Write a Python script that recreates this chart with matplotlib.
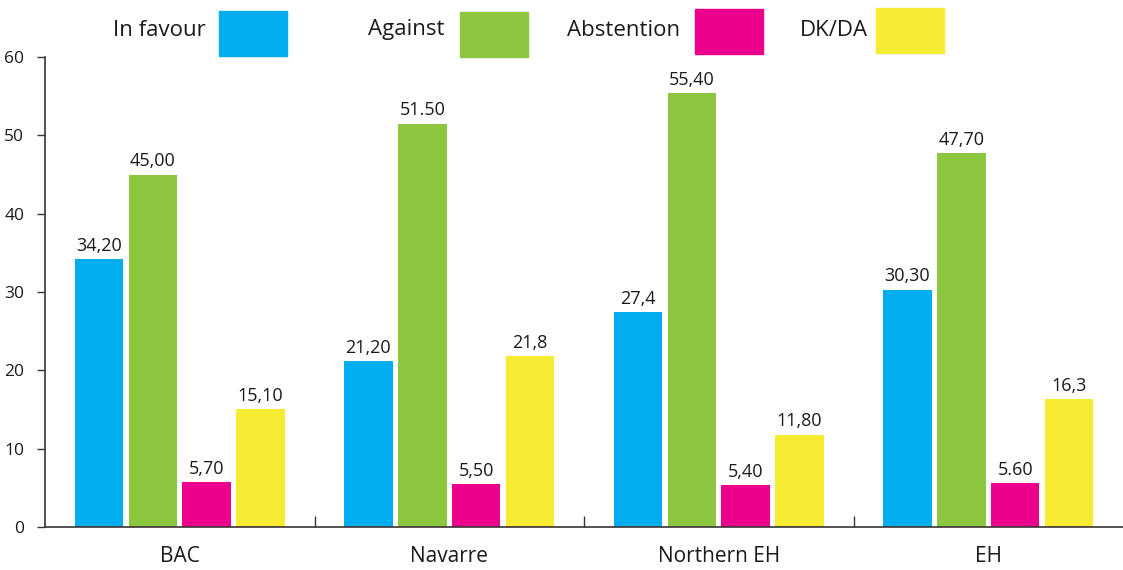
import matplotlib
matplotlib.use("Agg")
import matplotlib.pyplot as plt
from matplotlib.patches import Rectangle
import numpy as np

plt.rcParams['font.family'] = ['Open Sans', 'DejaVu Sans']

categories = ["BAC", "Navarre", "Northern EH", "EH"]
series_names = ["In favour", "Against", "Abstention", "DK/DA"]
in_favour = [34.2, 21.2, 27.4, 30.3]
against = [45.0, 51.5, 55.4, 47.7]
abstention = [5.7, 5.5, 5.4, 5.6]
dk_da = [15.1, 21.8, 11.8, 16.3]
labels_in_favour = ["34,20", "21,20", "27,4", "30,30"]
labels_against = ["45,00", "51.50", "55,40", "47,70"]
labels_abstention = ["5,70", "5,50", "5,40", "5.60"]
labels_dk_da = ["15,10", "21,8", "11,80", "16,3"]
y_ticks = [0, 10, 20, 30, 40, 50, 60]

colors = ["#00AEEF", "#8DC63F", "#EC008C", "#F7EC31"]
series = [in_favour, against, abstention, dk_da]
series_labels = [labels_in_favour, labels_against, labels_abstention, labels_dk_da]

W, H = 1123, 570
fig = plt.figure(figsize=(W / 100, H / 100), dpi=100)
ax = fig.add_axes([45 / W, 1 - 527 / H, 1 - 45 / W, (527 - 57) / H])

x = np.arange(len(categories))
offsets = [-0.3, -0.1, 0.1, 0.3]
axis_color = "#3b3233"
for vals, labs, col, off in zip(series, series_labels, colors, offsets):
    bars = ax.bar(x + off, vals, width=0.18, color=col, zorder=2)
    for b, lab in zip(bars, labs):
        ax.annotate(lab, (b.get_x() + b.get_width() / 2, b.get_height()),
                    xytext=(0, 3), textcoords="offset points",
                    ha="center", va="bottom", fontsize=13, color="#1a1a1a")

ax.set_xlim(-0.5, len(categories) - 0.5)
ax.set_ylim(0, 60)
ax.set_yticks(y_ticks)
ax.set_xticks(x)
ax.set_xticklabels(categories, fontsize=15, color="#1a1a1a")
ax.set_xticks(np.arange(0.5, len(categories) - 0.5, 1.0), minor=True)
ax.tick_params(axis="x", which="major", length=0, pad=14)
ax.tick_params(axis="x", which="minor", direction="in", length=8, width=1, color=axis_color)
ax.tick_params(axis="y", length=6, width=1, color=axis_color, labelsize=12.5, labelcolor="#1a1a1a", pad=9)
for s in ["top", "right"]:
    ax.spines[s].set_visible(False)
for s in ["left", "bottom"]:
    ax.spines[s].set_color(axis_color)
    ax.spines[s].set_linewidth(1.2)

# manual legend
legend_items = [
    (series_names[0], 113, 219, 11),
    (series_names[1], 368, 460, 12),
    (series_names[2], 567, 695, 9),
    (series_names[3], 800, 876, 8),
]
for (name, tx, bx, by), col in zip(legend_items, colors):
    fig.text(tx / W, 1 - 30 / H, name, fontsize=16, va="center", ha="left", color="#1a1a1a")
    fig.patches.append(Rectangle((bx / W, 1 - (by + 45) / H), 68 / W, 45 / H,
                                 transform=fig.transFigure, color=col, figure=fig))

fig.savefig("out.png", dpi=100)
